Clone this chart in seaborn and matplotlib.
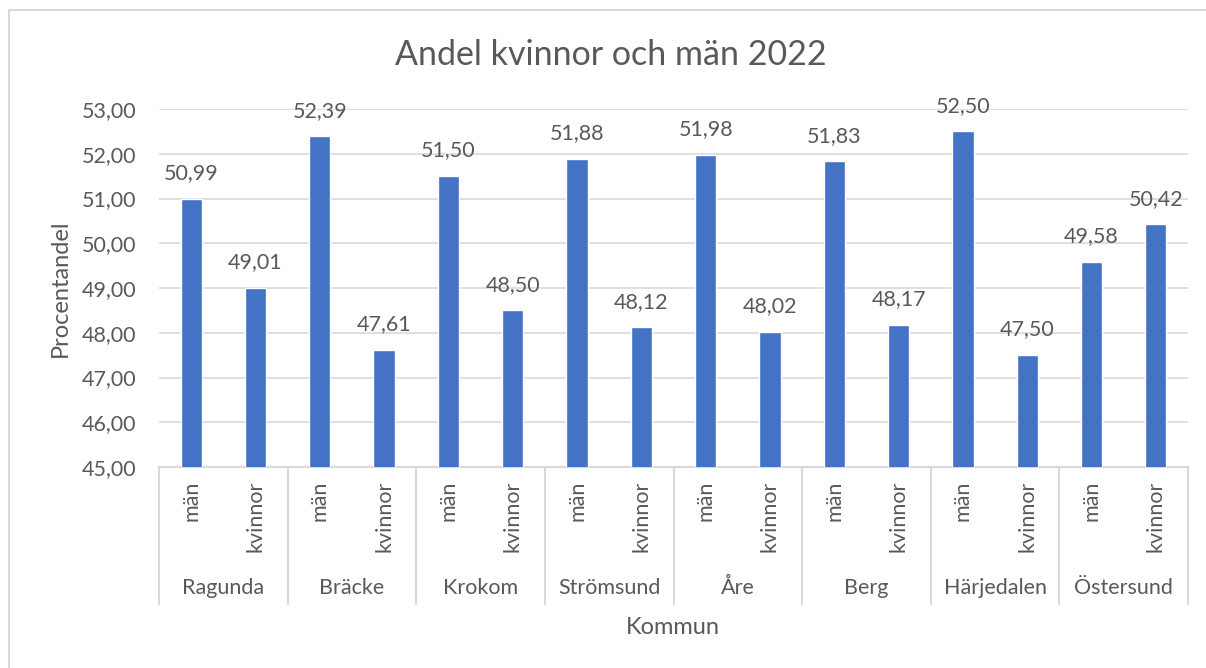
import matplotlib
matplotlib.use("Agg")
import matplotlib.pyplot as plt
import matplotlib.transforms as mtransforms
from matplotlib.lines import Line2D
import seaborn as sns
import pandas as pd

# ---- data ----
kommuner = ["Ragunda", "Bräcke", "Krokom", "Strömsund", "Åre", "Berg", "Härjedalen", "Östersund"]
kon = ["män", "kvinnor"]
man_values = [50.99, 52.39, 51.50, 51.88, 51.98, 51.83, 52.50, 49.58]
kvinnor_values = [49.01, 47.61, 48.50, 48.12, 48.02, 48.17, 47.50, 50.42]
y_ticks = [45, 46, 47, 48, 49, 50, 51, 52, 53]
title = "Andel kvinnor och män 2022"
ylabel = "Procentandel"
xlabel = "Kommun"

rows = []
for k, m, w in zip(kommuner, man_values, kvinnor_values):
    rows.append({"kommun": k, "kon": "män", "key": f"{k}|män", "value": m})
    rows.append({"kommun": k, "kon": "kvinnor", "key": f"{k}|kvinnor", "value": w})
df = pd.DataFrame(rows)
order = list(df["key"])

sns.set_theme(style="white")
plt.rcParams["font.family"] = ["Lato", "DejaVu Sans"]

TXT = "#595959"
GRID = "#D9D9D9"
BAR = "#4472C4"

W, H = 1206, 668
fig = plt.figure(figsize=(W / 100, H / 100), dpi=100)
fig.patch.set_facecolor("white")

# axes placement (pixel based)
L, R, T, B = 159, 1188, 109, 467
ax = fig.add_axes([L / W, 1 - B / H, (R - L) / W, (B - T) / H])

sns.barplot(data=df, x="key", y="value", order=order, color=BAR,
            width=0.33, saturation=1, ax=ax, zorder=3)

ax.set_ylim(45, 53)
ax.set_xlim(-0.5, len(order) - 0.5)
ax.set_yticks(y_ticks)
ax.set_yticklabels([f"{v:.2f}".replace(".", ",") for v in y_ticks],
                   color=TXT, fontsize=15.5)
ax.tick_params(axis="y", length=0, pad=16.5)
ax.set_xticks([])
ax.set_xlabel("")
ax.set_ylabel("")
for s in ax.spines.values():
    s.set_visible(False)
ax.yaxis.grid(True, color=GRID, linewidth=1.2, zorder=0)
ax.set_axisbelow(True)

# data labels
for i, v in enumerate(df["value"]):
    ax.text(i, v + 0.35, f"{v:.2f}".replace(".", ","), ha="center", va="bottom",
            color=TXT, fontsize=15.5)

# multi-level category axis
ax_h = B - T
trans = mtransforms.blended_transform_factory(ax.transData, ax.transAxes)
sep_bottom = -(604 - B) / ax_h
for g in range(len(kommuner) + 1):
    x = g * 2 - 0.5
    ax.add_line(Line2D([x, x], [0, sep_bottom], transform=trans, color=GRID,
                       linewidth=1.5, clip_on=False))
ax.add_line(Line2D([-0.5, len(order) - 0.5], [0, 0], transform=trans, color=GRID,
                   linewidth=1.5, clip_on=False))
for i, kv in enumerate(df["kon"]):
    ax.text(i, -(481 - B) / ax_h, kv, rotation=90, ha="center", va="top",
            transform=trans, color=TXT, fontsize=15.5)
for g, k in enumerate(kommuner):
    ax.text(g * 2 + 0.5, -(588 - B) / ax_h, k, ha="center", va="center",
            transform=trans, color=TXT, fontsize=15.5)

# titles
fig.text(611 / W, 1 - 55 / H, title, ha="center", va="center", color=TXT, fontsize=24.5)
fig.text(60 / W, 1 - 288 / H, ylabel, ha="center", va="center", rotation=90,
         color=TXT, fontsize=17)
fig.text(673 / W, 1 - 628 / H, xlabel, ha="center", va="center", color=TXT, fontsize=17)

# chart border (partially cropped)
fig.add_artist(Line2D([8.5 / W, 8.5 / W], [0, 1 - 10 / H], transform=fig.transFigure,
                      color=GRID, linewidth=1.5))
fig.add_artist(Line2D([8.5 / W, 1], [1 - 10 / H, 1 - 10 / H], transform=fig.transFigure,
                      color=GRID, linewidth=1.5))

fig.savefig("out.png", dpi=100, facecolor="white")
